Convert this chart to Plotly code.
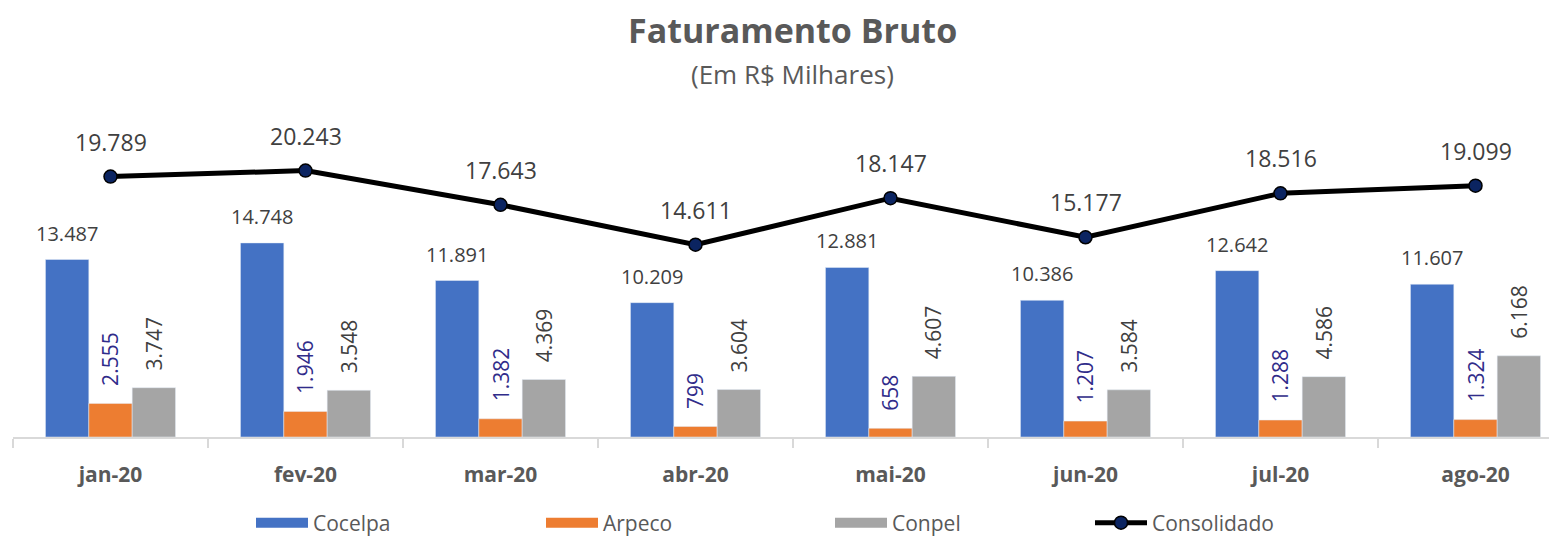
import plotly.graph_objects as go

months = ["jan-20", "fev-20", "mar-20", "abr-20", "mai-20", "jun-20", "jul-20", "ago-20"]
cocelpa = [13487, 14748, 11891, 10209, 12881, 10386, 12642, 11607]
arpeco = [2555, 1946, 1382, 799, 658, 1207, 1288, 1324]
conpel = [3747, 3548, 4369, 3604, 4607, 3584, 4586, 6168]
consolidado = [19789, 20243, 17643, 14611, 18147, 15177, 18516, 19099]

# the page body has an 8px margin, so the figure is sized/placed to compensate
OFF = 8
W, H = 1557 - OFF, 536 - OFF
ML, MR, MT, MB = 13 - OFF, 0, 108 - OFF, 99
FONT = "Segoe UI, Open Sans, Noto Sans, sans-serif"
BLUE, ORANGE, GREY = "#4472C4", "#ED7D31", "#A5A5A5"
TXT = "#404040"
TXT2 = "#595959"
ARP_TXT = "#302C8A"
ITEMW = 52

def fmt(v):
    return f"{v:,}".replace(",", ".")

fig = go.Figure()
fig.add_bar(x=months, y=cocelpa, name="Cocelpa", marker_color=BLUE, showlegend=False)
fig.add_bar(x=months, y=arpeco, name="Arpeco", marker_color=ORANGE, showlegend=False)
fig.add_bar(x=months, y=conpel, name="Conpel", marker_color=GREY, showlegend=False)
fig.add_scatter(x=months, y=consolidado, name="Consolidado", mode="lines+markers",
                line=dict(color="black", width=5),
                marker=dict(size=13, color="#0B2461", line=dict(color="black", width=1.5)),
                legend="legend4")

# legend entries (swatches)
for name, col, lg in [("Cocelpa", BLUE, "legend"), ("Arpeco", ORANGE, "legend2"), ("Conpel", GREY, "legend3")]:
    fig.add_scatter(x=[None], y=[None], mode="lines", name=name,
                    line=dict(color=col, width=15), legend=lg)

plot_w = W - ML - MR
cat_px = 195.0
x_hi = -0.5 + plot_w / cat_px
bar_px = cat_px * (1 - 0.333) / 3

ann = []
for i, m in enumerate(months):
    ann.append(dict(x=m, y=cocelpa[i], xref="x", yref="y", text=fmt(cocelpa[i]), showarrow=False,
                    xshift=-bar_px, yshift=11, yanchor="bottom", font=dict(size=20, color=TXT, family=FONT)))
    ann.append(dict(x=m, y=arpeco[i], xref="x", yref="y", text=fmt(arpeco[i]), showarrow=False,
                    textangle=-90, yshift=15, yanchor="bottom", font=dict(size=21, color=ARP_TXT, family=FONT)))
    ann.append(dict(x=m, y=conpel[i], xref="x", yref="y", text=fmt(conpel[i]), showarrow=False,
                    textangle=-90, xshift=bar_px, yshift=15, yanchor="bottom", font=dict(size=21, color=TXT, family=FONT)))
    ann.append(dict(x=m, y=consolidado[i], xref="x", yref="y", text=fmt(consolidado[i]), showarrow=False,
                    yshift=35, yanchor="middle", font=dict(size=23, color=TXT, family=FONT)))

plot_h = H - MT - MB
def py(p):
    return 1 + (MT - (p - OFF)) / plot_h
def px(p):
    return (p - OFF - ML) / plot_w

ann.append(dict(x=px(792), y=py(30), xref="paper", yref="paper", text="<b>Faturamento Bruto</b>",
                showarrow=False, xanchor="center", yanchor="middle", font=dict(size=34, color=TXT2, family=FONT)))
ann.append(dict(x=px(792), y=py(74), xref="paper", yref="paper", text="(Em R$ Milhares)",
                showarrow=False, xanchor="center", yanchor="middle", font=dict(size=26, color=TXT2, family=FONT)))

def legend_at(text_x):
    xpix = text_x - ITEMW - 10
    return dict(orientation="h", xref="container", yref="container", x=(xpix - OFF) / W,
                y=1 - (523 - OFF) / H, xanchor="left", yanchor="middle", bgcolor="rgba(0,0,0,0)",
                font=dict(size=21, color=TXT2, family=FONT), itemwidth=ITEMW)

fig.update_layout(
    width=W, height=H,
    margin=dict(l=ML, r=MR, t=MT, b=MB),
    plot_bgcolor="white", paper_bgcolor="white",
    barmode="group", bargap=0.333, bargroupgap=0,
    font=dict(family=FONT, color=TXT2),
    xaxis=dict(type="category", range=[-0.5, x_hi], showline=True, linecolor="#D9D9D9", linewidth=1.5,
               ticks="outside", tickson="boundaries", ticklen=9, tickcolor="#D9D9D9", tickwidth=1.5,
               showgrid=False, automargin=False,
               tickfont=dict(size=21, color=TXT2, family=FONT, weight="bold"), ticklabelstandoff=18),
    yaxis=dict(range=[0, 25000], visible=False, showgrid=False, automargin=False),
    annotations=ann,
    legend=legend_at(313),
    legend2=legend_at(603),
    legend3=legend_at(892),
    legend4=legend_at(1152),
)

fig.write_html("out.html")
